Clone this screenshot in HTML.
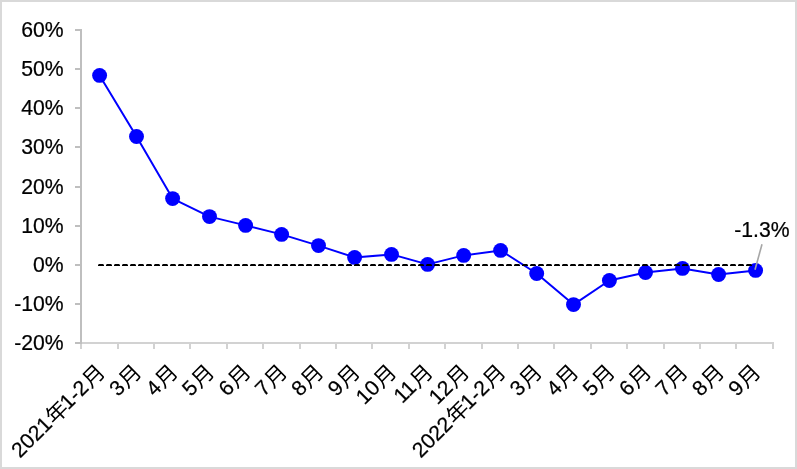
<!DOCTYPE html>
<html lang="zh"><head><meta charset="utf-8"><title>Chart</title>
<style>
html,body{margin:0;padding:0;background:#fff}
body{width:797px;height:469px;overflow:hidden}
svg{display:block;will-change:transform}
text{font-family:"Liberation Sans",sans-serif;font-size:21.15px;fill:#000;stroke:#000;stroke-width:.22px}
.cjk{fill:#000;stroke:none}
text.h{font-size:21.2px}
</style></head>
<body>
<svg width="797" height="469" viewBox="0 0 797 469">
<defs>
<path id="nian" d="M48 223V151H512V-80H589V151H954V223H589V422H884V493H589V647H907V719H307C324 753 339 788 353 824L277 844C229 708 146 578 50 496C69 485 101 460 115 448C169 500 222 569 268 647H512V493H213V223ZM288 223V422H512V223Z"/>
<path id="yue" d="M207 787V479C207 318 191 115 29 -27C46 -37 75 -65 86 -81C184 5 234 118 259 232H742V32C742 10 735 3 711 2C688 1 607 0 524 3C537 -18 551 -53 556 -76C663 -76 730 -75 769 -61C806 -48 821 -23 821 31V787ZM283 714H742V546H283ZM283 475H742V305H272C280 364 283 422 283 475Z"/>
</defs>
<rect x="1" y="1" width="795" height="467" fill="#fff" stroke="#d9d9d9" stroke-width="2"/>
<g stroke="#d2d2d2" stroke-width="2" fill="none">
<line x1="80" y1="343" x2="774" y2="343"/>
<line x1="81" y1="343" x2="81" y2="349"/>
<line x1="118" y1="343" x2="118" y2="349"/>
<line x1="154" y1="343" x2="154" y2="349"/>
<line x1="190" y1="343" x2="190" y2="349"/>
<line x1="227" y1="343" x2="227" y2="349"/>
<line x1="263" y1="343" x2="263" y2="349"/>
<line x1="300" y1="343" x2="300" y2="349"/>
<line x1="336" y1="343" x2="336" y2="349"/>
<line x1="372" y1="343" x2="372" y2="349"/>
<line x1="409" y1="343" x2="409" y2="349"/>
<line x1="445" y1="343" x2="445" y2="349"/>
<line x1="482" y1="343" x2="482" y2="349"/>
<line x1="518" y1="343" x2="518" y2="349"/>
<line x1="554" y1="343" x2="554" y2="349"/>
<line x1="591" y1="343" x2="591" y2="349"/>
<line x1="627" y1="343" x2="627" y2="349"/>
<line x1="664" y1="343" x2="664" y2="349"/>
<line x1="700" y1="343" x2="700" y2="349"/>
<line x1="736" y1="343" x2="736" y2="349"/>
<line x1="773" y1="343" x2="773" y2="349"/>
</g>
<g stroke="#bfbfbf" stroke-width="2" fill="none">
<line x1="81" y1="29" x2="81" y2="344"/>
<line x1="75" y1="30" x2="81" y2="30"/>
<line x1="75" y1="69" x2="81" y2="69"/>
<line x1="75" y1="108" x2="81" y2="108"/>
<line x1="75" y1="147" x2="81" y2="147"/>
<line x1="75" y1="187" x2="81" y2="187"/>
<line x1="75" y1="226" x2="81" y2="226"/>
<line x1="75" y1="265" x2="81" y2="265"/>
<line x1="75" y1="304" x2="81" y2="304"/>
<line x1="75" y1="343" x2="81" y2="343"/>
</g>
<g text-anchor="end">
<text class="h" x="63.7" y="37.00">60%</text>
<text class="h" x="63.7" y="76.00">50%</text>
<text class="h" x="63.7" y="115.00">40%</text>
<text class="h" x="63.7" y="154.00">30%</text>
<text class="h" x="63.7" y="194.00">20%</text>
<text class="h" x="63.7" y="233.00">10%</text>
<text class="h" x="63.7" y="272.00">0%</text>
<text class="h" x="63.7" y="311.00">-10%</text>
<text class="h" x="63.7" y="350.00">-20%</text>
</g>
<polyline fill="none" stroke="#0000ff" stroke-width="2" stroke-linejoin="round" points="99.6,75.4 136.5,136.5 172.6,198.6 209.5,216.6 245.6,225.4 281.6,234.4 318.5,245.6 354.6,257.4 391.5,254.4 427.6,264.4 463.7,255.4 500.6,250.4 536.7,273.5 573.5,304.6 609.4,280.5 645.5,272.5 682.5,268.4 718.6,274.5 755.6,270.4"/>
<g fill="#0000ff">
<circle cx="99.6" cy="75.4" r="7.45"/>
<circle cx="136.5" cy="136.5" r="7.45"/>
<circle cx="172.6" cy="198.6" r="7.45"/>
<circle cx="209.5" cy="216.6" r="7.45"/>
<circle cx="245.6" cy="225.4" r="7.45"/>
<circle cx="281.6" cy="234.4" r="7.45"/>
<circle cx="318.5" cy="245.6" r="7.45"/>
<circle cx="354.6" cy="257.4" r="7.45"/>
<circle cx="391.5" cy="254.4" r="7.45"/>
<circle cx="427.6" cy="264.4" r="7.45"/>
<circle cx="463.7" cy="255.4" r="7.45"/>
<circle cx="500.6" cy="250.4" r="7.45"/>
<circle cx="536.7" cy="273.5" r="7.45"/>
<circle cx="573.5" cy="304.6" r="7.45"/>
<circle cx="609.4" cy="280.5" r="7.45"/>
<circle cx="645.5" cy="272.5" r="7.45"/>
<circle cx="682.5" cy="268.4" r="7.45"/>
<circle cx="718.6" cy="274.5" r="7.45"/>
<circle cx="755.6" cy="270.4" r="7.45"/>
</g>
<g stroke="#000" stroke-width="1" fill="none">
<line x1="98" y1="265.5" x2="753" y2="265.5" stroke-dasharray="6 2"/>
<line x1="99" y1="264.5" x2="752" y2="264.5" stroke-dasharray="4 4"/>
<line x1="98" y1="264.5" x2="753" y2="264.5" stroke-dasharray="6 2" stroke-opacity=".55"/>
</g>
<line x1="762" y1="244.3" x2="755" y2="269.8" stroke="#a6a6a6" stroke-width="1.6"/>
<text class="h" x="734.2" y="237">-1.3%</text>
<g transform="translate(104.81 373.90) rotate(-45)"><title>2021年1-2月</title><use href="#yue" class="cjk" transform="translate(-20.53 0.80) scale(0.02221 -0.02115)"/><text x="-21.15" y="0" text-anchor="end">1-2</text><use href="#nian" class="cjk" transform="translate(-72.24 0.80) scale(0.02221 -0.02115)"/><text x="-72.86" y="0" text-anchor="end">2021</text></g>
<g transform="translate(141.23 373.90) rotate(-45)"><title>3月</title><use href="#yue" class="cjk" transform="translate(-20.53 0.80) scale(0.02221 -0.02115)"/><text x="-21.15" y="0" text-anchor="end">3</text></g>
<g transform="translate(177.65 373.90) rotate(-45)"><title>4月</title><use href="#yue" class="cjk" transform="translate(-20.53 0.80) scale(0.02221 -0.02115)"/><text x="-21.15" y="0" text-anchor="end">4</text></g>
<g transform="translate(214.07 373.90) rotate(-45)"><title>5月</title><use href="#yue" class="cjk" transform="translate(-20.53 0.80) scale(0.02221 -0.02115)"/><text x="-21.15" y="0" text-anchor="end">5</text></g>
<g transform="translate(250.49 373.90) rotate(-45)"><title>6月</title><use href="#yue" class="cjk" transform="translate(-20.53 0.80) scale(0.02221 -0.02115)"/><text x="-21.15" y="0" text-anchor="end">6</text></g>
<g transform="translate(286.92 373.90) rotate(-45)"><title>7月</title><use href="#yue" class="cjk" transform="translate(-20.53 0.80) scale(0.02221 -0.02115)"/><text x="-21.15" y="0" text-anchor="end">7</text></g>
<g transform="translate(323.34 373.90) rotate(-45)"><title>8月</title><use href="#yue" class="cjk" transform="translate(-20.53 0.80) scale(0.02221 -0.02115)"/><text x="-21.15" y="0" text-anchor="end">8</text></g>
<g transform="translate(359.76 373.90) rotate(-45)"><title>9月</title><use href="#yue" class="cjk" transform="translate(-20.53 0.80) scale(0.02221 -0.02115)"/><text x="-21.15" y="0" text-anchor="end">9</text></g>
<g transform="translate(396.18 373.90) rotate(-45)"><title>10月</title><use href="#yue" class="cjk" transform="translate(-20.53 0.80) scale(0.02221 -0.02115)"/><text x="-21.15" y="0" text-anchor="end">10</text></g>
<g transform="translate(432.60 373.90) rotate(-45)"><title>11月</title><use href="#yue" class="cjk" transform="translate(-20.53 0.80) scale(0.02221 -0.02115)"/><text x="-21.15" y="0" text-anchor="end">11</text></g>
<g transform="translate(469.02 373.90) rotate(-45)"><title>12月</title><use href="#yue" class="cjk" transform="translate(-20.53 0.80) scale(0.02221 -0.02115)"/><text x="-21.15" y="0" text-anchor="end">12</text></g>
<g transform="translate(505.44 373.90) rotate(-45)"><title>2022年1-2月</title><use href="#yue" class="cjk" transform="translate(-20.53 0.80) scale(0.02221 -0.02115)"/><text x="-21.15" y="0" text-anchor="end">1-2</text><use href="#nian" class="cjk" transform="translate(-72.24 0.80) scale(0.02221 -0.02115)"/><text x="-72.86" y="0" text-anchor="end">2022</text></g>
<g transform="translate(541.86 373.90) rotate(-45)"><title>3月</title><use href="#yue" class="cjk" transform="translate(-20.53 0.80) scale(0.02221 -0.02115)"/><text x="-21.15" y="0" text-anchor="end">3</text></g>
<g transform="translate(578.28 373.90) rotate(-45)"><title>4月</title><use href="#yue" class="cjk" transform="translate(-20.53 0.80) scale(0.02221 -0.02115)"/><text x="-21.15" y="0" text-anchor="end">4</text></g>
<g transform="translate(614.71 373.90) rotate(-45)"><title>5月</title><use href="#yue" class="cjk" transform="translate(-20.53 0.80) scale(0.02221 -0.02115)"/><text x="-21.15" y="0" text-anchor="end">5</text></g>
<g transform="translate(651.13 373.90) rotate(-45)"><title>6月</title><use href="#yue" class="cjk" transform="translate(-20.53 0.80) scale(0.02221 -0.02115)"/><text x="-21.15" y="0" text-anchor="end">6</text></g>
<g transform="translate(687.55 373.90) rotate(-45)"><title>7月</title><use href="#yue" class="cjk" transform="translate(-20.53 0.80) scale(0.02221 -0.02115)"/><text x="-21.15" y="0" text-anchor="end">7</text></g>
<g transform="translate(723.97 373.90) rotate(-45)"><title>8月</title><use href="#yue" class="cjk" transform="translate(-20.53 0.80) scale(0.02221 -0.02115)"/><text x="-21.15" y="0" text-anchor="end">8</text></g>
<g transform="translate(760.39 373.90) rotate(-45)"><title>9月</title><use href="#yue" class="cjk" transform="translate(-20.53 0.80) scale(0.02221 -0.02115)"/><text x="-21.15" y="0" text-anchor="end">9</text></g>
</svg>
</body></html>
